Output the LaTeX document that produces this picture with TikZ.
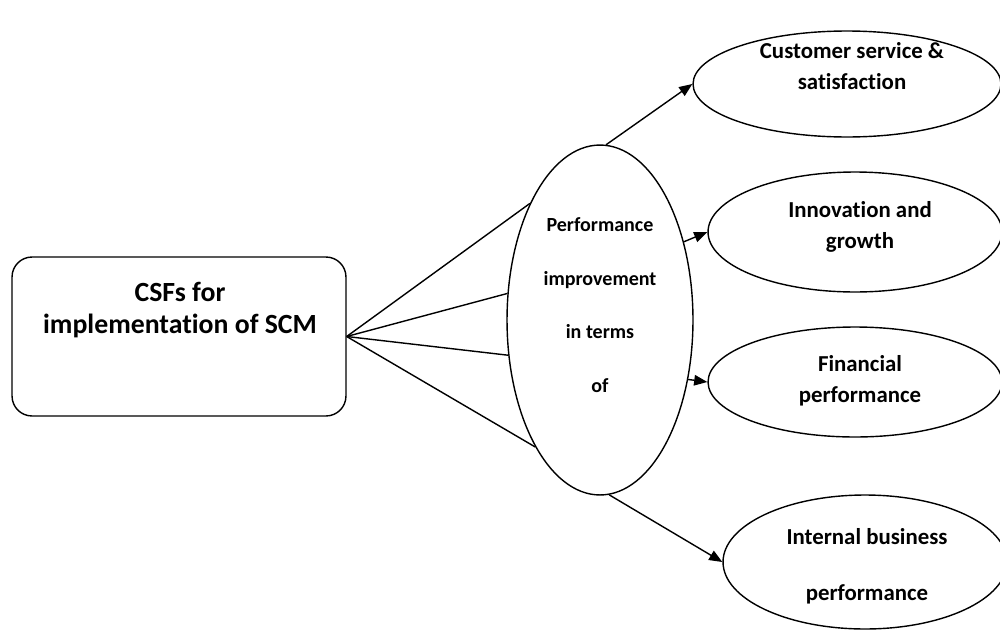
\documentclass[tikz,border=0pt]{standalone}
\usepackage{fontspec}
\setmainfont{Carlito}[Ligatures=NoCommon]
\usetikzlibrary{arrows.meta,shapes.geometric}
\tikzset{
  oval/.style={draw,ellipse,line width=0.8pt,inner sep=0pt},
  link/.style={line width=0.8pt},
  arr/.style={line width=0.8pt,-{Triangle[length=7.5pt,width=6pt]}},
  outtext/.style={font=\fontsize{13}{17.6}\selectfont\bfseries,align=center},
}
\newcommand{\outcome}[5]{\node[oval,minimum width=#4cm,minimum height=#5cm] (#1) at (#2,#3) {};}

\begin{document}
\begin{tikzpicture}[x=0.02cm,y=-0.02cm]
\useasboundingbox (0,0) rectangle (1000,629);
% shapes
\node[draw,rounded corners=0.4cm,line width=0.8pt,minimum width=6.68cm,minimum height=3.18cm] (csf) at (179,336.5) {};
\node[oval,minimum width=3.72cm,minimum height=7.0cm] (perf) at (600,320) {};
\outcome{cust}{847}{84}{6.16}{2.12}
\outcome{innov}{855}{232}{5.88}{2.4}
\outcome{fin}{855}{382}{5.88}{2.2}
\outcome{intl}{865}{562}{5.68}{2.68}
% texts
\node[font=\fontsize{15.8}{18.7}\selectfont\bfseries,align=center] (csftxt) at (180,310) {CSFs for\\implementation of SCM};
\node[font=\fontsize{11.4}{30.6}\selectfont\bfseries,align=center] (perftxt) at (600,305) {Performance\\improvement\\in terms\\of};
\node[outtext] (custtxt) at (852,66) {Customer service \&\\satisfaction};
\node[outtext] (innovtxt) at (860,227) {Innovation and\\growth};
\node[outtext] (fintxt) at (860,381) {Financial\\performance};
\node[outtext,font=\fontsize{13}{32}\selectfont\bfseries] (intltxt) at (867,566) {Internal business\\performance};
% connectors
\draw[link] (csf.east) -- (perf.121);
\draw[link] (csf.east) -- (perf.164);
\draw[link] (csf.east) -- (perf.201);
\draw[link] (csf.east) -- (perf.243);
\draw[arr] (perf.88) -- (cust.west);
\draw[arr] (perf.43) -- (innov.west);
\draw[arr] (perf.-34) -- (fin.west);
\draw[arr] (perf.-87) -- (intl.west);
\end{tikzpicture}
\end{document}
